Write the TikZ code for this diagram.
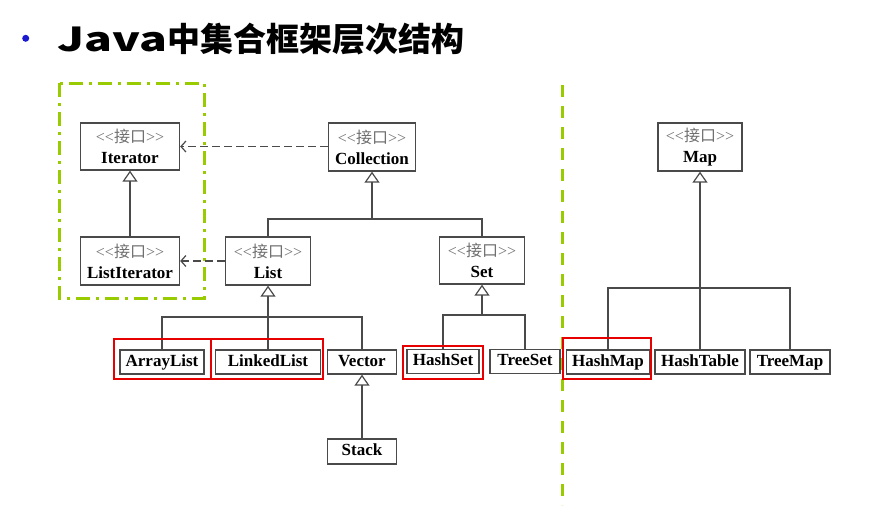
\documentclass[tikz,border=0pt]{standalone}
\usepackage{fontspec}
\usepackage{graphicx}
\setmainfont{Liberation Serif}
\newfontfamily\cjk{Noto Sans CJK SC}
\usetikzlibrary{arrows.meta}
\definecolor{lime}{HTML}{99CC00}
\definecolor{boxline}{HTML}{4A4A4A}
\definecolor{stereo}{HTML}{707070}
\definecolor{hl}{HTML}{E60000}
\definecolor{bullet}{HTML}{1A1AD0}
\newcommand{\iface}[1]{{\color{stereo}\fontsize{16}{16}\selectfont <{}<{\cjk 接口}>{}>}\\[2pt]\textbf{#1}}
\tikzset{
  ibox/.style={draw=boxline, line width=1.3pt, fill=white, align=center,
    font=\fontsize{17}{19}\selectfont, inner sep=0pt},
  cbox/.style={draw=boxline, line width=1.3pt, fill=white,
    font=\fontsize{17}{17}\selectfont\bfseries, minimum height=24pt, inner sep=0pt,
    text height=11.5pt, text depth=3.5pt},
  gen/.style={draw=boxline, line width=1.2pt, -{Triangle[open, width=15pt, length=11pt, line width=1.2pt]}},
  plain/.style={draw=boxline, line width=1.2pt},
  dep/.style={draw=boxline, line width=1.2pt, dash pattern=on 8pt off 4pt,
    -{Straight Barb[length=5pt, width=11pt, line width=1.2pt]}},
  redbox/.style={draw=hl, line width=2pt},
  groupline/.style={draw=lime, line width=3pt, dash pattern=on 14pt off 6pt on 3pt off 6pt},
  splitline/.style={draw=lime, line width=3pt, dash pattern=on 12pt off 9pt}
}
\begin{document}
\begin{tikzpicture}[x=1pt,y=-1pt]
\useasboundingbox (0,0) rectangle (881,520);
% title
\fill[bullet] (25.7,38.3) circle (3.5pt);
\node[anchor=west, inner sep=0pt, font=\cjk\bfseries\fontsize{33}{33}\selectfont] (title) at (57,39) {\scalebox{1.4}[1]{Java}中集合框架层次结构};
% green frames
\draw[groupline] (59,83) rectangle (204,298);
\draw[splitline] (562,85) -- (562,505);
% interface boxes
\node[ibox, minimum width=99pt, minimum height=47pt] (iter) at (130,146.5) {\iface{Iterator}};
\node[ibox, minimum width=87pt, minimum height=48pt] (coll) at (372,147) {\iface{Collection}};
\node[ibox, minimum width=99pt, minimum height=48pt] (liter) at (130,261) {\iface{ListIterator}};
\node[ibox, minimum width=85pt, minimum height=48pt] (list) at (268,261) {\iface{List}};
\node[ibox, minimum width=85pt, minimum height=47pt] (set) at (482,260.5) {\iface{Set}};
\node[ibox, minimum width=84pt, minimum height=48pt] (map) at (700,147) {\iface{Map}};
% classes
\node[cbox, minimum width=84pt] (alist) at (162,362) {ArrayList};
\node[cbox, minimum width=105pt] (llist) at (268,362) {LinkedList};
\node[cbox, minimum width=69pt] (vec) at (362,362) {Vector};
\node[cbox, minimum width=69pt, minimum height=25pt] (stack) at (362,451.5) {Stack};
\node[cbox, minimum width=72pt] (hset) at (443,361.5) {HashSet};
\node[cbox, minimum width=70pt] (tset) at (525,361.5) {TreeSet};
\node[cbox, minimum width=83pt] (hmap) at (608,362) {HashMap};
\node[cbox, minimum width=90pt] (htab) at (700,362) {HashTable};
\node[cbox, minimum width=80pt] (tmap) at (790,362) {TreeMap};
% junction coordinates
\coordinate (jc) at (372,219);
\coordinate (jl) at (268,317);
\coordinate (js) at (482,315);
\coordinate (jm) at (700,288);
% generalisations
\draw[gen] (liter) -- (iter);
\draw[gen] (jc) -- (coll);
\draw[plain] (list.north) |- (jc) -| (set.north);
\draw[gen] (llist) -- (list);
\draw[plain] (alist.north) |- (jl) -| (vec.north);
\draw[gen] (js) -- (set);
\draw[plain] (hset.north) |- (js) -| (tset.north);
\draw[gen] (stack) -- (vec);
\draw[gen] (jm) -- (map);
\draw[plain] (hmap.north) |- (jm) -| (tmap.north);
\draw[plain] (htab.north) -- (jm);
% dependencies
\draw[dep] (coll.west |- iter.east) -- (iter.east);
\draw[dep] (list.west |- liter.east) -- (liter.east);
% highlights
\draw[redbox] (114,339) rectangle (211,379);
\draw[redbox] (211,339) rectangle (323,379);
\draw[redbox] (403,346) rectangle (483,379);
\draw[redbox] (563,338) rectangle (651,379);
\end{tikzpicture}
\end{document}
